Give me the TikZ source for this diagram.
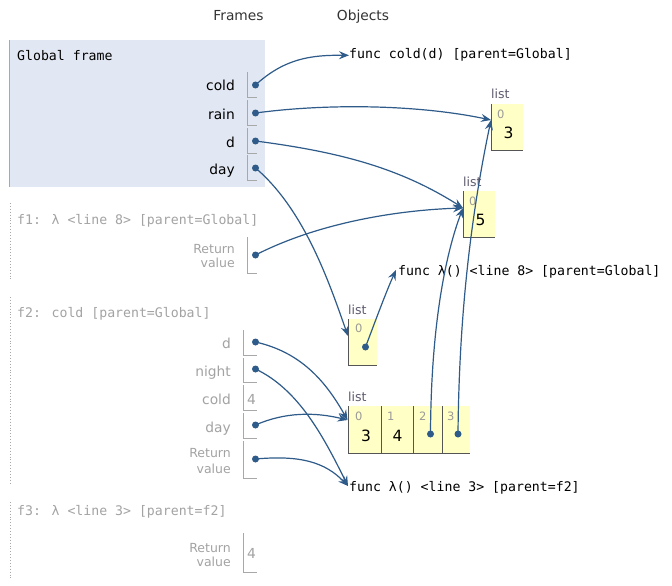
\documentclass[tikz,border=0pt]{standalone}
\usepackage{fontspec}
\setmainfont{DejaVu Sans}
\newfontfamily\codefont{DejaVu Sans Mono}
\usetikzlibrary{arrows.meta}
\definecolor{arrowc}{HTML}{2E5B89}
\definecolor{framebg}{HTML}{E2E8F3}
\definecolor{grayt}{HTML}{A3A3A3}
\definecolor{grayl}{HTML}{A8A8A8}
\definecolor{listbg}{HTML}{FFFFC6}
\definecolor{listln}{HTML}{555555}
\definecolor{listlbl}{HTML}{5E5B6E}
\definecolor{idxc}{HTML}{9A9A9A}
\begin{document}
\begin{tikzpicture}[x=1pt,y=-1pt,
  lbl/.style={inner sep=0, font=\fontsize{13.8}{16}\selectfont},
  glbl/.style={lbl, text=grayt},
  rlbl/.style={inner sep=0, font=\fontsize{12.5}{14}\selectfont, text=grayt, align=right},
  code/.style={inner sep=0, font=\codefont\fontsize{13.2}{16}\selectfont},
  gcode/.style={code, text=grayt},
  vline/.style={draw=grayl, line width=0.9pt},
  fborder/.style={draw=grayl, line width=0.9pt},
  dborder/.style={draw=grayl, line width=0.9pt, dotted},
  dotn/.style={circle, fill=arrowc, inner sep=0, minimum size=7pt},
  conn/.style={draw=arrowc, line width=1.2pt, -{Stealth[length=10pt,width=8pt,inset=3.5pt]}},
  cell/.style={fill=listbg, inner sep=0, anchor=north west},
  cellln/.style={draw=listln, line width=1pt},
  listl/.style={inner sep=0, font=\fontsize{12.5}{14}\selectfont, text=listlbl},
  idx/.style={inner sep=0, font=\fontsize{11.5}{13}\selectfont, text=idxc},
  val/.style={inner sep=0, font=\fontsize{15.5}{18}\selectfont},
]
\useasboundingbox (0,0) rectangle (672,586);
\fill[white] (0,0) rectangle (672,586);

% headers
\node[lbl, anchor=base, text=black!80] (hframes) at (238.5,21) {Frames};
\node[lbl, anchor=base, text=black!80] (hobjects) at (363,21) {Objects};

% ---------- Global frame
\node[fill=framebg, inner sep=0, anchor=north west, minimum width=256pt, minimum height=147pt] (gframe) at (9,40) {};
\draw[fborder] (gframe.north west) -- (gframe.south west);
\node[code, anchor=base west] (gtitle) at (17,60) {Global frame};
\node[lbl, anchor=base east] (gcold) at (235,91) {cold};
\node[lbl, anchor=base east] (grain) at (235,119) {rain};
\node[lbl, anchor=base east] (gd) at (235,147) {d};
\node[lbl, anchor=base east] (gday) at (235,174) {day};
\draw[vline] (247,72) |- (257,97);
\draw[vline] (247,100) |- (257,125);
\draw[vline] (247,128) |- (257,153);
\draw[vline] (247,155) |- (257,180);
\node[dotn] (pcold) at (255.5,85) {};
\node[dotn] (prain) at (255.5,113) {};
\node[dotn] (pd) at (255.5,141) {};
\node[dotn] (pday) at (255.5,168) {};

% ---------- f1
\draw[dborder] (10,203) -- (10,280);
\node[gcode, anchor=base west] (f1title) at (17,224) {f1: λ <line 8> [parent=Global]};
\node[rlbl, anchor=base east] (f1r) at (235,253) {Return};
\node[rlbl, anchor=base east] (f1v) at (235,267) {value};
\draw[vline] (247,237) |- (257,273);
\node[dotn] (pf1ret) at (255.5,255) {};

% ---------- f2
\draw[dborder] (10,297) -- (10,485);
\node[gcode, anchor=base west] (f2title) at (17,317) {f2: cold [parent=Global]};
\node[glbl, anchor=base east] (f2d) at (231,348) {d};
\node[glbl, anchor=base east] (f2night) at (231,376) {night};
\node[glbl, anchor=base east] (f2cold) at (231,404) {cold};
\node[glbl, anchor=base east] (f2day) at (231,432) {day};
\node[rlbl, anchor=base east] (f2r) at (231,457) {Return};
\node[rlbl, anchor=base east] (f2v) at (231,473) {value};
\draw[vline] (243,330) |- (257,355);
\draw[vline] (243,358) |- (257,382);
\draw[vline] (243,385) |- (257,410);
\draw[vline] (243,413) |- (257,438);
\draw[vline] (243,441) |- (257,478);
\node[glbl, anchor=base west] (f2coldv) at (247,404) {4};
\node[dotn] (pf2d) at (255.5,342) {};
\node[dotn] (pf2night) at (255.5,369) {};
\node[dotn] (pf2day) at (255.5,425) {};
\node[dotn] (pf2ret) at (255.5,459) {};

% ---------- f3
\draw[dborder] (10,502) -- (10,578);
\node[gcode, anchor=base west] (f3title) at (17,515) {f3: λ <line 3> [parent=f2]};
\node[rlbl, anchor=base east] (f3r) at (231,552) {Return};
\node[rlbl, anchor=base east] (f3v) at (231,566) {value};
\draw[vline] (243,533) |- (257,572);
\node[glbl, anchor=base west] (f3rv) at (247,558) {4};

% ---------- objects
\node[code, anchor=base west] (fcold) at (349,59) {func cold(d) [parent=Global]};
\node[code, anchor=base west] (flam8) at (398,275) {func λ() <line 8> [parent=Global]};
\node[code, anchor=base west] (flam3) at (349,491) {func λ() <line 3> [parent=f2]};

% list [3]
\node[listl, anchor=base west] (l3lbl) at (491,98) {list};
\node[cell, minimum width=32pt, minimum height=46pt] (l3) at (491,104) {};
\draw[cellln] (l3.north west) |- (l3.south east);
\node[idx, anchor=base west] (l3i) at (497,118) {0};
\node[val, anchor=base west] (l3v) at (503.5,138) {3};

% list [5]
\node[listl, anchor=base west] (l5lbl) at (463,186) {list};
\node[cell, minimum width=32pt, minimum height=46pt] (l5) at (463,191) {};
\draw[cellln] (l5.north west) |- (l5.south east);
\node[idx, anchor=base west] (l5i) at (469,205) {0};
\node[val, anchor=base west] (l5v) at (475.5,225) {5};

% list [lambda]
\node[listl, anchor=base west] (lalbl) at (348,314) {list};
\node[cell, minimum width=29pt, minimum height=46pt] (la) at (348,319) {};
\draw[cellln] (la.north west) |- (la.south east);
\node[idx, anchor=base west] (lai) at (355,332) {0};
\node[dotn] (pla0) at (365.5,347) {};

% list [3,4,.,.]
\node[listl, anchor=base west] (lblbl) at (348,401) {list};
\node[cell, minimum width=33pt, minimum height=47pt] (lb0) at (348,406) {};
\node[cell, minimum width=32pt, minimum height=47pt] (lb1) at (381,406) {};
\node[cell, minimum width=29pt, minimum height=47pt] (lb2) at (413,406) {};
\node[cell, minimum width=28pt, minimum height=47pt] (lb3) at (442,406) {};
\draw[cellln] (lb0.north west) |- (lb3.south east);
\draw[cellln] (lb1.north west) -- (lb1.south west);
\draw[cellln] (lb2.north west) -- (lb2.south west);
\draw[cellln] (lb3.north west) -- (lb3.south west);
\node[idx, anchor=base west] (lbi0) at (355,420) {0};
\node[idx, anchor=base west] (lbi1) at (387,420) {1};
\node[idx, anchor=base west] (lbi2) at (419,420) {2};
\node[idx, anchor=base west] (lbi3) at (447,420) {3};
\node[val, anchor=base west] (lbv0) at (361,441) {3};
\node[val, anchor=base west] (lbv1) at (392.5,441) {4};
\node[dotn] (plb2) at (430.5,434) {};
\node[dotn] (plb3) at (458,434) {};

% arrow end points on list edges
\coordinate (l3in) at (491,120);
\coordinate (l5in) at (463,208);
\coordinate (lain) at (348,336);
\coordinate (lbin) at (347.5,420);
\coordinate (f8in) at (396,270);
\coordinate (f3in) at (348,486);

% ---------- connectors
\draw[conn] (pcold.center) .. controls (285,58) and (312,55) .. (fcold.west);
\draw[conn] (prain.center) .. controls (330,103) and (420,105) .. (l3in);
\draw[conn] (pd.center) .. controls (340,152) and (400,168) .. (l5in);
\draw[conn] (pday.center) .. controls (305,210) and (330,285) .. (lain);
\draw[conn] (pf1ret.center) .. controls (320,222) and (400,210) .. (l5in);
\draw[conn] (pla0.center) .. controls (375,322) and (386,292) .. (f8in);
\draw[conn] (plb2.center) .. controls (431,320) and (447,250) .. (l5in);
\draw[conn] (plb3.center) .. controls (459,320) and (470,220) .. (l3in);
\draw[conn] (pf2d.center) .. controls (300,352) and (325,380) .. (lbin);
\draw[conn] (pf2night.center) .. controls (300,390) and (325,440) .. (f3in);
\draw[conn] (pf2day.center) .. controls (285,412) and (315,412) .. (lbin);
\draw[conn] (pf2ret.center) .. controls (300,455) and (325,462) .. (f3in);
\end{tikzpicture}
\end{document}
